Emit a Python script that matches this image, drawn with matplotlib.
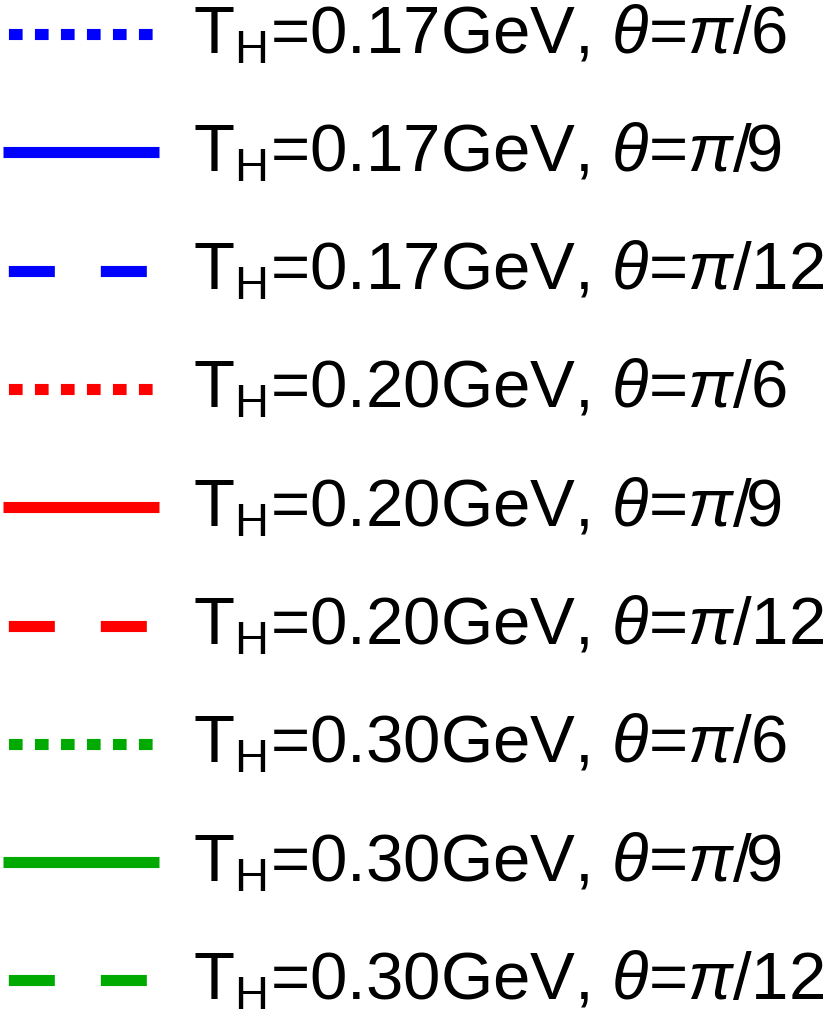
import matplotlib
matplotlib.use("Agg")
import matplotlib.pyplot as plt

plt.rcParams['mathtext.fontset'] = 'custom'
plt.rcParams['mathtext.rm'] = 'Liberation Sans'
plt.rcParams['mathtext.it'] = 'Liberation Sans:italic'
plt.rcParams['font.family'] = ['Liberation Sans', 'DejaVu Sans']

temps = ['0.17', '0.17', '0.17', '0.20', '0.20', '0.20', '0.30', '0.30', '0.30']
angles = ['6', '9', '12', '6', '9', '12', '6', '9', '12']
colors = ['#0000ff', '#0000ff', '#0000ff', '#ff0000', '#ff0000', '#ff0000',
          '#00aa00', '#00aa00', '#00aa00']
styles = ['dot', 'solid', 'dash'] * 3

# dash patterns in units of line width, offsets tuned to the picture
patterns = {
    'dot': (1.85, (1.23, 1.11)),
    'solid': '-',
    'dash': (7.8, (4.14, 4.14)),
}

W, H = 830, 1015
fig = plt.figure(figsize=(W / 100, H / 100), dpi=100)
ax = fig.add_axes([0, 0, 1, 1])
ax.set_xlim(0, W)
ax.set_ylim(H, 0)
ax.axis('off')

lw = 8.0
y0, dy = 34, 118.3
for i in range(len(temps)):
    y = y0 + i * dy
    ax.plot([3.3, 159.3], [y, y], color=colors[i], lw=lw,
            linestyle=patterns[styles[i]], solid_capstyle='butt',
            dash_capstyle='butt')
    label = r'T$_\mathrm{H}$=' + temps[i] + r'GeV, $\theta$=$\pi$/' + angles[i]
    ax.text(193, y + 19, label, fontsize=48.3, va='baseline', ha='left')

fig.savefig('out.png', dpi=100)
